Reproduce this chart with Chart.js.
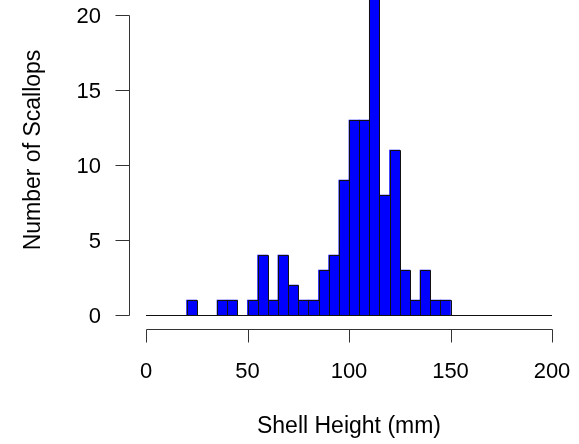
<!DOCTYPE html>
<html>
<head>
<meta charset="utf-8">
<script src="https://cdn.jsdelivr.net/npm/chart.js@4"></script>
<style>
  html, body { margin: 0; padding: 0; background: #fff; }
  #wrap { width: 579px; height: 444px; position: relative; overflow: hidden; }
</style>
</head>
<body>
<div id="wrap"><canvas id="hist" width="579" height="444"></canvas></div>
<script>
// Histogram bins (left edge, mm) and counts per bin
const binStarts = [0, 5, 10, 15, 20, 25, 30, 35, 40, 45,
                   50, 55, 60, 65, 70, 75, 80, 85, 90, 95,
                   100, 105, 110, 115, 120, 125, 130, 135, 140, 145,
                   150, 155, 160, 165, 170, 175, 180, 185, 190, 195];
const counts = [0, 0, 0, 0, 1, 0, 0, 1, 1, 0,
                1, 4, 1, 4, 2, 1, 1, 3, 4, 9,
                13, 13, 22, 8, 11, 3, 1, 3, 1, 1,
                0, 0, 0, 0, 0, 0, 0, 0, 0, 0];
const binWidth = 5;

const xTicks = [0, 50, 100, 150, 200];
const yTicks = [0, 5, 10, 15, 20];
const xTitle = 'Shell Height (mm)';
const yTitle = 'Number of Scallops';

const FONT = '"Liberation Sans", Arial, Helvetica, sans-serif';

const points = binStarts.map((s, i) => ({ x: s + binWidth / 2, y: counts[i] }));

// R style axes drawn with the chart's own scales
const rAxes = {
  id: 'rAxes',
  afterDatasetsDraw(chart) {
    const ctx = chart.ctx;
    const xs = chart.scales.x, ys = chart.scales.y;
    ctx.save();
    ctx.strokeStyle = '#111';
    ctx.lineWidth = 1;
    // zero-height bins show as a line along the bottom
    const y0 = Math.round(ys.getPixelForValue(0)) + 0.5;
    ctx.beginPath();
    ctx.moveTo(xs.getPixelForValue(binStarts[0]), y0);
    ctx.lineTo(xs.getPixelForValue(binStarts[binStarts.length - 1] + binWidth), y0);
    ctx.stroke();
    // bar outlines, snapped to whole pixels
    ctx.beginPath();
    chart.getDatasetMeta(0).data.forEach((bar, i) => {
      if (!counts[i]) return;
      const p = bar.getProps(['x', 'y', 'width', 'base'], true);
      const l = Math.round(p.x - p.width / 2) + 0.5;
      const r = Math.round(p.x + p.width / 2) + 0.5;
      const t = Math.round(p.y) + 0.5;
      ctx.rect(l, t, r - l, y0 - t);
    });
    ctx.stroke();
    ctx.restore();
  },
  afterDraw(chart) {
    const ctx = chart.ctx;
    const xs = chart.scales.x, ys = chart.scales.y;
    const area = chart.chartArea;
    ctx.save();
    ctx.strokeStyle = '#333';
    ctx.lineWidth = 1;
    ctx.fillStyle = '#000';

    // y axis
    const ax = Math.round(area.left) - 0.5;
    const yTop = Math.round(ys.getPixelForValue(yTicks[yTicks.length - 1])) + 0.5;
    const yBot = Math.round(ys.getPixelForValue(yTicks[0])) + 0.5;
    ctx.beginPath();
    ctx.moveTo(ax, yTop);
    ctx.lineTo(ax, yBot);
    yTicks.forEach(v => {
      const py = Math.round(ys.getPixelForValue(v)) + 0.5;
      ctx.moveTo(ax, py);
      ctx.lineTo(ax - 14, py);
    });
    ctx.stroke();
    ctx.font = '22px ' + FONT;
    ctx.textAlign = 'right';
    ctx.textBaseline = 'middle';
    yTicks.forEach(v => {
      ctx.fillText(String(v), 101, ys.getPixelForValue(v) + 2);
    });

    // x axis
    const ay = Math.round(area.bottom) + 0.5;
    const xl = Math.round(xs.getPixelForValue(xTicks[0])) + 0.5;
    const xr = Math.round(xs.getPixelForValue(xTicks[xTicks.length - 1])) + 0.5;
    ctx.beginPath();
    ctx.moveTo(xl, ay);
    ctx.lineTo(xr, ay);
    xTicks.forEach(v => {
      const px = Math.round(xs.getPixelForValue(v)) + 0.5;
      ctx.moveTo(px, ay);
      ctx.lineTo(px, ay + 13);
    });
    ctx.stroke();
    ctx.textAlign = 'center';
    xTicks.forEach(v => {
      ctx.fillText(String(v), xs.getPixelForValue(v), 372);
    });

    // titles
    ctx.font = '23px ' + FONT;
    ctx.fillText(xTitle, (area.left + area.right) / 2, 427);
    ctx.translate(34, 150);
    ctx.rotate(-Math.PI / 2);
    ctx.fillText(yTitle, 0, 0);
    ctx.restore();
  }
};

new Chart(document.getElementById('hist'), {
  type: 'bar',
  data: {
    datasets: [{
      data: points,
      backgroundColor: c => counts[c.dataIndex] ? '#0000ff' : 'rgba(0,0,0,0)',
      borderWidth: 0,
      barPercentage: 1,
      categoryPercentage: 1
    }]
  },
  options: {
    responsive: false,
    animation: false,
    layout: { padding: { left: 129.76, right: 10.76, top: 0, bottom: 115 } },
    plugins: { legend: { display: false }, tooltip: { enabled: false } },
    scales: {
      x: { type: 'linear', min: -8, max: 208, display: false, offset: false },
      y: { min: -0.93, max: 21, display: false }
    }
  },
  plugins: [rAxes]
});
</script>
</body>
</html>
